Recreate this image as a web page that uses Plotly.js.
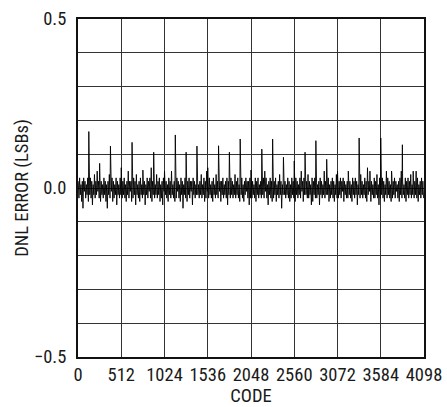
<!DOCTYPE html>
<html>
<head>
<meta charset="utf-8">
<script src="https://cdn.plot.ly/plotly-3.0.1.min.js"></script>
<style>html,body{margin:0;padding:0;background:#fff;}#chart{width:447px;height:407px;}</style>
</head>
<body>
<div id="chart"></div>
<script>
// Background noise of the DNL error, sampled every 8 codes (LSBs)
const noiseStep = 8;
const noiseValues = [
 0.02,-0.03,0.03,-0.02,0.01,-0.04,0.02,-0.06,0.03,-0.01,0.02,-0.03,0.01,-0.02,0.03,-0.04,
 0.01,-0.02,0.03,-0.03,0.02,-0.05,0.01,-0.02,0.04,-0.03,0.02,-0.02,0.05,-0.01,0.02,-0.03,
 0.03,-0.04,0.02,-0.02,0.01,-0.03,0.03,-0.02,0.02,-0.04,0.01,-0.06,0.02,-0.02,0.04,-0.03,
 0.02,-0.01,0.03,-0.04,0.02,-0.03,0.01,-0.02,0.03,-0.05,0.02,-0.02,0.01,-0.03,0.03,-0.02,
 0.04,-0.03,0.02,-0.02,0.03,-0.03,0.01,-0.04,0.02,-0.02,0.05,-0.03,0.02,-0.01,0.02,-0.04,
 0.01,-0.03,0.03,-0.02,0.02,-0.05,0.04,-0.02,0.01,-0.03,0.02,-0.04,0.03,-0.02,0.01,-0.03,
 0.03,-0.02,0.02,-0.05,0.01,-0.02,0.03,-0.03,0.02,-0.01,0.03,-0.03,0.06,-0.04,0.02,-0.02,
 0.02,-0.03,0.01,-0.02,0.04,-0.03,0.02,-0.02,0.03,-0.04,0.01,-0.03,0.02,-0.05,0.03,-0.01,
 0.03,-0.02,0.02,-0.03,0.01,-0.04,0.03,-0.02,0.02,-0.03,0.05,-0.02,0.01,-0.03,0.02,-0.04,
 0.02,-0.03,0.03,-0.01,0.02,-0.03,0.01,-0.04,0.03,-0.02,0.02,-0.06,0.01,-0.02,0.03,-0.03,
 0.01,-0.04,0.02,-0.02,0.03,-0.03,0.02,-0.01,0.02,-0.05,0.03,-0.02,0.02,-0.03,0.01,-0.02,
 0.03,-0.02,0.01,-0.03,0.02,-0.02,0.04,-0.03,0.01,-0.02,0.03,-0.04,0.02,-0.03,0.05,-0.01,
 0.02,-0.03,0.03,-0.02,0.01,-0.03,0.02,-0.04,0.03,-0.02,0.01,-0.03,0.04,-0.02,0.02,-0.03,
 0.03,-0.01,0.02,-0.04,0.02,-0.02,0.03,-0.03,0.01,-0.02,0.02,-0.03,0.03,-0.05,0.02,-0.02,
 0.01,-0.03,0.03,-0.02,0.02,-0.03,0.01,-0.02,0.04,-0.03,0.02,-0.02,0.03,-0.03,0.01,-0.04,
 0.02,-0.02,0.03,-0.03,0.01,-0.04,0.02,-0.02,0.03,-0.01,0.02,-0.03,0.02,-0.05,0.03,-0.03,
 0.04,-0.03,0.02,-0.02,0.01,-0.03,0.03,-0.04,0.02,-0.02,0.03,-0.03,0.01,-0.02,0.02,-0.03,
 0.02,-0.02,0.03,-0.03,0.05,-0.01,0.03,-0.03,0.01,-0.05,0.02,-0.02,0.03,-0.03,0.02,-0.04,
 0.01,-0.03,0.02,-0.02,0.03,-0.04,0.01,-0.02,0.02,-0.03,0.04,-0.02,0.02,-0.06,0.01,-0.02,
 0.03,-0.02,0.02,-0.03,0.01,-0.02,0.03,-0.03,0.02,-0.04,0.01,-0.03,0.03,-0.02,0.02,-0.03,
 0.02,-0.04,0.03,-0.02,0.02,-0.03,0.01,-0.02,0.03,-0.03,0.05,-0.01,0.02,-0.04,0.03,-0.02,
 0.01,-0.02,0.02,-0.03,0.04,-0.03,0.02,-0.02,0.01,-0.05,0.03,-0.04,0.02,-0.02,0.03,-0.03,
 0.03,-0.03,0.01,-0.02,0.02,-0.05,0.03,-0.02,0.02,-0.03,0.01,-0.02,0.05,-0.03,0.02,-0.02,
 0.02,-0.02,0.03,-0.04,0.01,-0.03,0.02,-0.02,0.03,-0.03,0.02,-0.04,0.01,-0.02,0.04,-0.03,
 0.01,-0.03,0.02,-0.02,0.03,-0.03,0.02,-0.01,0.03,-0.04,0.02,-0.02,0.01,-0.03,0.02,-0.03,
 0.03,-0.02,0.02,-0.03,0.01,-0.04,0.03,-0.02,0.02,-0.03,0.03,-0.02,0.02,-0.05,0.01,-0.02,
 0.02,-0.03,0.04,-0.02,0.02,-0.03,0.01,-0.02,0.03,-0.03,0.02,-0.04,0.06,-0.02,0.02,-0.01,
 0.03,-0.04,0.02,-0.02,0.01,-0.03,0.03,-0.03,0.02,-0.02,0.04,-0.03,0.01,-0.05,0.03,-0.03,
 0.02,-0.02,0.03,-0.03,0.02,-0.04,0.01,-0.02,0.05,-0.03,0.03,-0.02,0.02,-0.03,0.01,-0.04,
 0.04,-0.03,0.02,-0.02,0.03,-0.03,0.02,-0.01,0.01,-0.03,0.02,-0.04,0.03,-0.02,0.05,-0.03,
 0.02,-0.02,0.01,-0.03,0.03,-0.04,0.02,-0.02,0.03,-0.03,0.02,-0.02,0.04,-0.03,0.01,-0.02,
 0.03,-0.03,0.02,-0.02,0.05,-0.03,0.03,-0.04,0.01,-0.02,0.02,-0.03,0.03,-0.02,0.02,-0.03
];
// Spikes seen every 128 codes
const spikeCodes = [128,256,384,512,640,768,896,1024,1152,1280,1408,1536,1664,1792,1920,2048,
  2176,2304,2432,2560,2688,2816,2944,3072,3200,3328,3456,3584,3712,3840,3968];
const spikeValues = [0.167,0.073,0.124,0.06,0.135,0.053,0.106,0.05,0.157,0.106,0.124,0.06,0.125,0.106,0.145,0.053,
  0.115,0.145,0.091,0.08,0.106,0.14,0.085,0.05,0.05,0.148,0.05,0.148,0.05,0.128,0.05];

const xTickVals = [0,512,1024,1536,2048,2560,3072,3584,4096];
const xTickText = ['0','512','1024','1536','2048','2560','3072','3584','4098'];
const yTickVals = [-0.5,-0.4,-0.3,-0.2,-0.1,0,0.1,0.2,0.3,0.4,0.5];
const yTickText = ['\u22120.5','','','','','0.0','','','','','0.5'];

// merge noise and spikes in code order
const pts = [];
noiseValues.forEach((v,i)=>pts.push([i*noiseStep+3, v]));
spikeCodes.forEach((c,i)=>pts.push([c, spikeValues[i]]));
pts.sort((a,b)=>a[0]-b[0]);

const font = {family:'"Liberation Sans Narrow","Arial Narrow","Roboto Condensed",Arial,sans-serif', size:18.5, color:'#1a1a1a'};

Plotly.newPlot('chart', [{
  x: pts.map(p=>p[0]), y: pts.map(p=>p[1]),
  type:'scatter', mode:'lines',
  line:{color:'#000', width:0.9},
  hoverinfo:'skip'
}], {
  width:447, height:407,
  margin:{l:78, r:23, t:19, b:50},
  paper_bgcolor:'#fff', plot_bgcolor:'#fff',
  showlegend:false,
  font: font,
  xaxis:{
    range:[0,4096], tickmode:'array', tickvals:xTickVals, ticktext:xTickText,
    showgrid:true, gridcolor:'#333', gridwidth:1, zeroline:false,
    showline:true, linecolor:'#111', linewidth:2, mirror:true,
    ticks:'', ticklen:0, tickfont:font,
    title:{text:'CODE', font:font, standoff:9}
  },
  yaxis:{
    range:[-0.5,0.5], tickmode:'array', tickvals:yTickVals, ticktext:yTickText,
    showgrid:true, gridcolor:'#333', gridwidth:1, zeroline:false,
    showline:true, linecolor:'#111', linewidth:2, mirror:true,
    ticks:'', tickfont:font, ticklabelstandoff:6,
    title:{text:'DNL ERROR (LSBs)', font:font, standoff:0}
  }
}, {staticPlot:true, displayModeBar:false});
</script>
</body>
</html>
